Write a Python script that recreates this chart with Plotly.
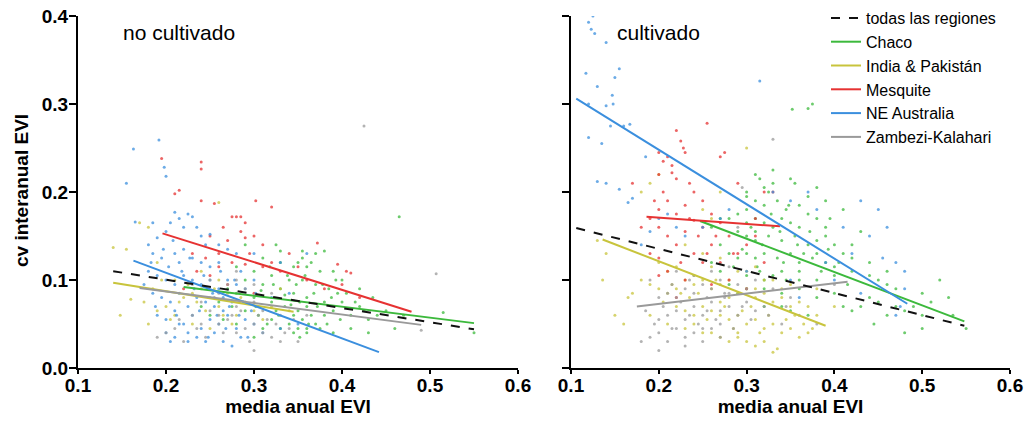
import plotly.graph_objects as go

REGIONS = ["todas las regiones", "Chaco", "India & Pakistán", "Mesquite", "NE Australia", "Zambezi-Kalahari"]
COLORS = ["#111111", "#3cb93c", "#c8c43c", "#e63232", "#3b8fde", "#9a9a9a"]

X_TICKS = [0.1, 0.2, 0.3, 0.4, 0.5, 0.6]
Y_TICKS = [0.0, 0.1, 0.2, 0.3, 0.4]

# ---------------- no cultivado (left) scatter ----------------
nc_aus_x = [0.163,0.192,0.155,0.198,0.2,0.165,0.185,0.21,0.215,0.225,0.23,0.205,0.2,0.19,0.22,0.235,0.24,0.25,0.26,0.27,0.28,0.3,0.18,0.185,0.195,0.21,0.215,0.22,0.23,0.24,0.25,0.26,
            0.18,0.19,0.2,0.21,0.22,0.23,0.24,0.25,0.26,0.27,0.28,0.29,0.3,0.185,0.195,0.205,0.215,0.225,0.235,0.245,0.255,0.265,0.275,0.32,0.34,
            0.19,0.2,0.21,0.22,0.23,0.24,0.25,0.26,0.27,0.28,0.29,0.3,0.225,0.235,0.245,0.255,0.265,0.275,0.285,0.31,0.33,0.35,0.2,0.21,0.36,0.33,
            0.175,0.183,0.188,0.197,0.203,0.208,0.212,0.218,0.227,0.232,0.238,0.243,0.248,0.253,0.258,0.262,0.268,0.272,0.278,0.283,0.288,0.293,0.297,0.302,0.215,0.225,0.205,0.245,0.265,0.285]
nc_aus_y = [0.249,0.259,0.21,0.228,0.218,0.166,0.165,0.177,0.17,0.175,0.172,0.165,0.155,0.148,0.16,0.16,0.15,0.152,0.14,0.135,0.13,0.13,0.14,0.13,0.125,0.13,0.12,0.135,0.125,0.12,0.115,0.12,
            0.11,0.105,0.1,0.095,0.105,0.1,0.095,0.1,0.09,0.1,0.095,0.09,0.1,0.085,0.08,0.075,0.085,0.07,0.08,0.075,0.07,0.08,0.075,0.08,0.085,
            0.06,0.055,0.065,0.05,0.06,0.045,0.055,0.05,0.06,0.045,0.055,0.05,0.04,0.035,0.03,0.04,0.03,0.025,0.035,0.04,0.045,0.05,0.04,0.035,0.13,0.12,
            0.095,0.12,0.07,0.135,0.115,0.145,0.06,0.11,0.125,0.09,0.065,0.105,0.035,0.085,0.06,0.11,0.045,0.07,0.1,0.06,0.075,0.035,0.065,0.085,0.05,0.03,0.03,0.14,0.065,0.11]

nc_mes_x = [0.195,0.24,0.24,0.215,0.21,0.24,0.302,0.32,0.255,0.275,0.28,0.285,0.29,0.265,0.25,0.27,0.285,0.29,0.3,0.31,0.295,0.26,0.245,0.23,0.275,0.29,0.31,0.32,0.33,0.35,
            0.372,0.395,0.405,0.41,0.4,0.38,0.36,0.34,0.25,0.27,0.3,0.42,0.22,0.26,0.235]
nc_mes_y = [0.238,0.234,0.226,0.202,0.198,0.19,0.19,0.183,0.187,0.172,0.172,0.172,0.165,0.16,0.15,0.145,0.155,0.148,0.15,0.14,0.13,0.13,0.125,0.13,0.12,0.118,0.115,0.12,0.11,0.115,
            0.142,0.118,0.11,0.108,0.095,0.09,0.1,0.13,0.105,0.095,0.085,0.08,0.09,0.115,0.11]

nc_cha_x = [0.465,0.515,0.55,0.46,0.33,0.355,0.38,0.31,0.33,0.35,0.36,0.375,0.3,0.32,0.34,0.355,0.37,0.385,0.395,0.29,0.31,0.33,0.345,0.36,0.38,0.4,0.42,0.27,0.28,0.3,
            0.32,0.335,0.35,0.365,0.38,0.39,0.41,0.43,0.44,0.26,0.275,0.29,0.305,0.32,0.34,0.35,0.36,0.37,0.355,0.345,0.33,0.31,0.3,0.28,0.265,0.25,0.24,0.42,0.4,0.39,
            0.43,0.45,0.47,0.37,0.345,0.325,0.29,0.28,0.36,0.375,0.39,0.41,
            0.302,0.308,0.315,0.322,0.328,0.335,0.342,0.348,0.352,0.358,0.362,0.368,0.372,0.378,0.383,0.388,0.393,0.398,0.355,0.345,0.338,0.365,0.352,0.36,0.318,0.325,0.405,0.415,0.425,0.435]
nc_cha_y = [0.172,0.063,0.04,0.045,0.133,0.133,0.133,0.125,0.12,0.12,0.115,0.11,0.11,0.105,0.1,0.1,0.095,0.09,0.085,0.1,0.095,0.09,0.085,0.08,0.075,0.075,0.07,0.09,0.085,0.08,
            0.075,0.07,0.065,0.06,0.06,0.065,0.06,0.055,0.06,0.075,0.07,0.065,0.06,0.055,0.05,0.045,0.04,0.05,0.055,0.04,0.045,0.045,0.035,0.05,0.055,0.06,0.07,0.09,0.1,0.11,
            0.04,0.065,0.06,0.13,0.115,0.14,0.14,0.115,0.07,0.045,0.04,0.045,
            0.07,0.088,0.05,0.095,0.06,0.083,0.072,0.095,0.035,0.105,0.05,0.085,0.07,0.095,0.05,0.08,0.1,0.055,0.125,0.06,0.105,0.12,0.075,0.045,0.115,0.065,0.085,0.075,0.065,0.08]

nc_ind_x = [0.14,0.155,0.148,0.17,0.18,0.26,0.16,0.175,0.19,0.2,0.21,0.22,0.23,0.24,0.25,0.26,0.27,0.28,0.3,0.32,0.34,0.23,0.25,0.21,0.24,0.26,0.19,0.18,0.29,0.33,
            0.185,0.195,0.205,0.215,0.225,0.235,0.245,0.255,0.265,0.275,0.285,0.31]
nc_ind_y = [0.137,0.135,0.06,0.165,0.16,0.188,0.078,0.075,0.065,0.07,0.06,0.08,0.085,0.09,0.08,0.07,0.085,0.06,0.065,0.07,0.065,0.05,0.045,0.1,0.11,0.1,0.12,0.05,0.075,0.09,
            0.09,0.1,0.055,0.075,0.095,0.075,0.065,0.09,0.06,0.05,0.08,0.055]

nc_zam_x = [0.425,0.507,0.49,0.2,0.21,0.23,0.25,0.26,0.27,0.28,0.29,0.3,0.31,0.32,0.33,0.34,0.35,0.3,0.24,0.26,0.28,0.3,0.27,0.29,0.31,0.33,0.22,0.19,0.36,0.25,0.28,0.23,
            0.215,0.235,0.245,0.255,0.265,0.275,0.285,0.295,0.305,0.315,0.325,0.335,0.345,0.32,0.3,0.28,0.26,0.24]
nc_zam_y = [0.275,0.107,0.043,0.04,0.045,0.06,0.065,0.05,0.055,0.04,0.045,0.05,0.04,0.035,0.03,0.045,0.03,0.02,0.075,0.085,0.07,0.075,0.095,0.09,0.065,0.06,0.03,0.035,0.06,0.1,0.11,0.095,
            0.055,0.045,0.035,0.08,0.04,0.06,0.065,0.03,0.06,0.055,0.05,0.04,0.055,0.085,0.095,0.1,0.06,0.05]

# ---------------- cultivado (right) scatter ----------------
c_aus_x = [0.12,0.125,0.123,0.127,0.14,0.117,0.155,0.15,0.147,0.13,0.315,0.12,0.135,0.145,0.14,0.16,0.148,0.13,0.155,0.165,0.17,0.185,0.167,0.12,0.14,0.2,0.22,0.21,
           0.33,0.35,0.37,0.42,0.43,0.44,0.45,0.46,0.47,0.48,0.48,0.475,0.47,0.4,0.39,0.25,0.27,0.18,0.3,0.35,
           0.19,0.23,0.28,0.38,0.41,0.455,0.43,0.36]
c_aus_y = [0.393,0.4,0.385,0.38,0.37,0.335,0.34,0.33,0.31,0.32,0.326,0.262,0.255,0.275,0.298,0.275,0.3,0.212,0.203,0.188,0.193,0.24,0.277,0.3,0.21,0.17,0.16,0.175,
           0.2,0.19,0.2,0.13,0.19,0.15,0.18,0.16,0.12,0.09,0.11,0.07,0.06,0.1,0.12,0.16,0.17,0.14,0.11,0.1,
           0.155,0.15,0.18,0.18,0.16,0.125,0.085,0.08]

c_mes_x = [0.255,0.22,0.225,0.228,0.21,0.205,0.2,0.215,0.2,0.22,0.23,0.27,0.275,0.29,0.32,0.33,0.24,0.25,0.21,0.23,0.2,0.22,0.26,0.24,0.19,0.2,0.21,0.23,0.25,0.27,
           0.28,0.22,0.24,0.26,0.25,0.27,0.29,0.3,0.32,0.2,0.21,0.23,0.26,0.28,0.3,0.22,0.18,0.19,0.17,0.31,
           0.205,0.215,0.235,0.245,0.265,0.285,0.195,0.225,0.255,0.31,0.235,0.2]
c_mes_y = [0.278,0.27,0.258,0.25,0.24,0.235,0.245,0.222,0.22,0.215,0.245,0.24,0.245,0.21,0.2,0.2,0.2,0.19,0.19,0.185,0.18,0.175,0.175,0.168,0.17,0.16,0.15,0.155,0.16,0.165,
           0.15,0.14,0.13,0.14,0.12,0.12,0.13,0.14,0.12,0.125,0.11,0.1,0.095,0.1,0.09,0.08,0.16,0.13,0.21,0.17,
           0.2,0.23,0.21,0.15,0.15,0.13,0.19,0.12,0.13,0.15,0.17,0.105]

c_cha_x = [0.3,0.31,0.315,0.32,0.325,0.33,0.35,0.355,0.31,0.32,0.335,0.345,0.3,0.29,0.28,0.3,0.31,0.32,0.33,0.34,0.35,0.36,0.37,0.38,0.29,0.3,0.31,0.325,0.34,0.355,
           0.37,0.38,0.39,0.4,0.27,0.28,0.29,0.3,0.31,0.32,0.335,0.35,0.36,0.375,0.39,0.41,0.26,0.27,0.285,0.3,0.315,0.33,0.345,0.36,0.38,0.4,0.42,0.28,0.3,0.32,
           0.34,0.36,0.38,0.4,0.41,0.42,0.43,0.44,0.45,0.46,0.47,0.48,0.49,0.5,0.51,0.53,0.55,0.48,0.5,0.445,0.43,0.44,0.45,0.46,0.42,0.41,0.375,0.37,0.352,0.38,
           0.37,0.39,0.395,0.26,0.27,0.35,0.37,0.32,0.34,0.29,0.52,0.46,
           0.295,0.305,0.312,0.318,0.328,0.338,0.342,0.348,0.358,0.365,0.372,0.385,0.393,0.405,0.415,0.3,0.33,0.36,0.39,0.42,0.44,0.47,0.5,0.535,0.36,0.34,0.32,0.31,0.38,0.4]
c_cha_y = [0.2,0.22,0.215,0.205,0.2,0.21,0.215,0.21,0.19,0.185,0.19,0.18,0.18,0.175,0.17,0.165,0.17,0.165,0.16,0.17,0.165,0.16,0.175,0.17,0.155,0.15,0.145,0.15,0.145,0.15,
           0.14,0.145,0.15,0.14,0.14,0.13,0.125,0.13,0.125,0.13,0.125,0.13,0.12,0.125,0.12,0.13,0.12,0.11,0.115,0.105,0.11,0.105,0.1,0.11,0.1,0.105,0.11,0.095,0.09,0.09,
           0.085,0.09,0.08,0.085,0.07,0.065,0.07,0.08,0.075,0.06,0.07,0.065,0.07,0.06,0.075,0.08,0.045,0.04,0.045,0.05,0.155,0.12,0.1,0.11,0.125,0.18,0.3,0.295,0.294,0.205,
           0.195,0.19,0.17,0.16,0.17,0.065,0.06,0.07,0.07,0.085,0.1,0.095,
           0.135,0.16,0.115,0.14,0.175,0.155,0.12,0.185,0.14,0.13,0.155,0.11,0.135,0.12,0.095,0.195,0.225,0.185,0.16,0.14,0.105,0.09,0.085,0.06,0.1,0.11,0.1,0.155,0.13,0.115]

c_ind_x = [0.136,0.14,0.13,0.16,0.18,0.19,0.2,0.27,0.25,0.26,0.3,0.2,0.21,0.22,0.18,0.19,0.17,0.2,0.21,0.22,0.23,0.24,0.25,0.26,0.27,0.28,0.29,0.3,0.31,0.32,
           0.33,0.34,0.35,0.36,0.37,0.38,0.22,0.23,0.24,0.25,0.26,0.27,0.28,0.29,0.3,0.31,0.32,0.33,0.34,0.35,0.36,0.37,0.26,0.27,0.28,0.29,0.3,0.31,0.32,0.33,
           0.335,0.24,0.21,0.19,0.25,0.27,0.29,0.31,0.33,0.35,0.23,0.38,0.4,0.165,0.15,
           0.205,0.215,0.225,0.235,0.245,0.255,0.265,0.275,0.285,0.295,0.305,0.315,0.325,0.345,0.355,0.365,0.375,0.24,0.26,0.28,0.3,0.32,0.34,0.29,0.31,0.27,0.25,0.23]
c_ind_y = [0.1,0.13,0.145,0.05,0.2,0.21,0.22,0.2,0.18,0.17,0.25,0.12,0.11,0.115,0.1,0.095,0.085,0.09,0.085,0.09,0.1,0.095,0.1,0.09,0.095,0.08,0.085,0.09,0.08,0.085,
           0.075,0.08,0.07,0.075,0.07,0.06,0.07,0.065,0.06,0.07,0.065,0.06,0.055,0.06,0.05,0.055,0.045,0.05,0.04,0.045,0.035,0.04,0.04,0.035,0.03,0.04,0.03,0.025,0.03,0.018,
           0.022,0.05,0.05,0.06,0.13,0.125,0.11,0.115,0.1,0.095,0.14,0.09,0.07,0.08,0.06,
           0.075,0.095,0.085,0.08,0.085,0.055,0.1,0.07,0.045,0.065,0.07,0.04,0.06,0.055,0.06,0.05,0.045,0.105,0.115,0.1,0.11,0.1,0.09,0.035,0.09,0.075,0.04,0.045]

c_zam_x = [0.18,0.19,0.2,0.21,0.22,0.23,0.24,0.25,0.26,0.27,0.2,0.21,0.22,0.23,0.24,0.25,0.26,0.27,0.28,0.29,0.3,0.31,0.32,0.2,0.21,0.22,0.23,0.24,0.25,0.26,
           0.27,0.28,0.29,0.3,0.31,0.33,0.35,0.36,0.38,0.4,0.22,0.24,0.26,0.28,0.19,0.185,0.2,0.23,0.295,0.29,0.33,0.34,0.27,0.25,
           0.195,0.205,0.215,0.225,0.235,0.245,0.255,0.265,0.275,0.285,0.215,0.235,0.255,0.275,0.295,0.305,0.325,0.345]
c_zam_y = [0.03,0.035,0.04,0.03,0.045,0.035,0.04,0.03,0.045,0.035,0.055,0.06,0.065,0.055,0.07,0.06,0.075,0.065,0.07,0.06,0.075,0.065,0.07,0.08,0.085,0.08,0.09,0.085,0.095,0.09,
           0.1,0.085,0.095,0.09,0.1,0.09,0.08,0.06,0.05,0.095,0.11,0.105,0.11,0.115,0.1,0.065,0.02,0.025,0.205,0.16,0.26,0.05,0.05,0.045,
           0.05,0.07,0.045,0.075,0.06,0.05,0.08,0.055,0.085,0.045,0.095,0.1,0.065,0.08,0.07,0.055,0.06,0.07]

# ---------------- regression lines (endpoints), order = REGIONS ----------------
nc_fit_x = [[0.14, 0.55], [0.22, 0.55], [0.14, 0.345], [0.196, 0.479], [0.163, 0.442], [0.17, 0.49]]
nc_fit_y = [[0.110, 0.044], [0.092, 0.051], [0.097, 0.064], [0.153, 0.064], [0.122, 0.018], [0.091, 0.049]]
c_fit_x = [[0.106, 0.548], [0.247, 0.548], [0.136, 0.39], [0.186, 0.338], [0.106, 0.483], [0.175, 0.415]]
c_fit_y = [[0.159, 0.048], [0.167, 0.053], [0.146, 0.048], [0.172, 0.161], [0.306, 0.073], [0.070, 0.098]]

nc_pts = [(nc_cha_x, nc_cha_y), (nc_ind_x, nc_ind_y), (nc_mes_x, nc_mes_y), (nc_aus_x, nc_aus_y), (nc_zam_x, nc_zam_y)]
c_pts = [(c_cha_x, c_cha_y), (c_ind_x, c_ind_y), (c_mes_x, c_mes_y), (c_aus_x, c_aus_y), (c_zam_x, c_zam_y)]

FONT = "Arial, Liberation Sans, sans-serif"
W, H = 1026, 425


def PX(xp):
    return xp / W


def PY(yp):
    return 1 - yp / H


fig = go.Figure()

for pts, xa, ya in [(nc_pts, "x", "y"), (c_pts, "x2", "y2")]:
    for i, (px, py) in enumerate(pts):
        fig.add_trace(go.Scatter(x=px, y=py, mode="markers", xaxis=xa, yaxis=ya, showlegend=False,
                                 marker=dict(size=3, color=COLORS[i + 1], opacity=0.75), hoverinfo="skip"))

for panel, (fx, fy, xa, ya) in enumerate([(nc_fit_x, nc_fit_y, "x", "y"), (c_fit_x, c_fit_y, "x2", "y2")]):
    for i in [1, 2, 3, 4, 5, 0]:
        fig.add_trace(go.Scatter(x=fx[i], y=fy[i], mode="lines", xaxis=xa, yaxis=ya,
                                 name=REGIONS[i], showlegend=(panel == 1), legendrank=i + 1,
                                 line=dict(color=COLORS[i], width=2, dash="dash" if i == 0 else "solid")))

axis_common = dict(range=[0.1, 0.6], tickvals=X_TICKS, ticktext=[f"<b>{v:.1f}</b>" for v in X_TICKS],
                   showline=True, linecolor="black", linewidth=2, ticks="outside", ticklen=4, tickwidth=2,
                   tickcolor="black", showgrid=False, zeroline=False, automargin=False, ticklabelstandoff=-5,
                   tickfont=dict(family=FONT, size=19, color="black"),
                   title=dict(text="<b>media anual EVI</b>", font=dict(family=FONT, size=19, color="black"), standoff=2))
yaxis_common = dict(range=[0, 0.4], tickvals=Y_TICKS, ticktext=[f"<b>{v:.1f}</b>" for v in Y_TICKS],
                    showline=True, linecolor="black", linewidth=2, ticks="outside", ticklen=7, tickwidth=2,
                    tickcolor="black", showgrid=False, zeroline=False, automargin=False, ticklabelstandoff=-3,
                    tickfont=dict(family=FONT, size=19, color="black"))

fig.update_layout(
    width=W, height=H, margin=dict(l=0, r=0, t=0, b=0),
    plot_bgcolor="white", paper_bgcolor="white",
    font=dict(family=FONT, color="black"),
    xaxis=dict(domain=[PX(78), PX(518)], anchor="y", **axis_common),
    xaxis2=dict(domain=[PX(571), PX(1010)], anchor="y2", **axis_common),
    yaxis=dict(domain=[PY(368), PY(16)], anchor="x", **yaxis_common),
    yaxis2=dict(domain=[PY(368), PY(16)], anchor="x2", showticklabels=False, **yaxis_common),
    legend=dict(x=PX(826), y=PY(1), xanchor="left", yanchor="top", bgcolor="rgba(0,0,0,0)",
                font=dict(family=FONT, size=16, color="black"), itemwidth=30, traceorder="normal"),
    annotations=[
        dict(text="<b>cv interanual EVI</b>", x=PX(21), y=PY(191), xref="paper", yref="paper", textangle=-90,
             xanchor="center", yanchor="middle", showarrow=False, font=dict(family=FONT, size=19, color="black")),
        dict(text="no cultivado", x=PX(121), y=PY(33), xref="paper", yref="paper",
             xanchor="left", yanchor="middle", showarrow=False, font=dict(family=FONT, size=21, color="black")),
        dict(text="cultivado", x=PX(615), y=PY(33), xref="paper", yref="paper",
             xanchor="left", yanchor="middle", showarrow=False, font=dict(family=FONT, size=21, color="black")),
    ],
)

fig.write_html("out.html", config={"displayModeBar": False},
               post_script="document.body.style.margin='0px';")
